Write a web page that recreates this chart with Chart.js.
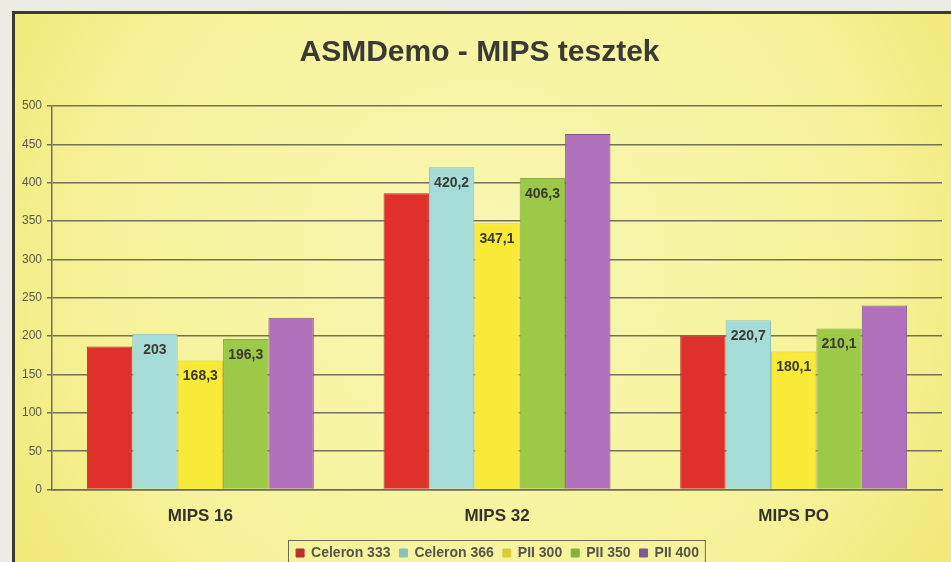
<!DOCTYPE html>
<html>
<head>
<meta charset="utf-8">
<script src="https://cdn.jsdelivr.net/npm/chart.js@4.4.1/dist/chart.umd.min.js"></script>
<style>
  html, body { margin: 0; padding: 0; background: #ecebe4; overflow: hidden; }
  #frame {
    position: absolute; left: 12px; top: 11px;
    width: 936px; height: 556px;
    border-top: 3px solid #3b3b33; border-left: 3px solid #3b3b33;
  }
  canvas { display: block; }
</style>
</head>
<body>
<div id="frame"><canvas id="mipsChart" width="936" height="556"></canvas></div>
<script>
// Benchmark results, MIPS per processor
const categories = ['MIPS 16', 'MIPS 32', 'MIPS PO'];
const processors = ['Celeron 333', 'Celeron 366', 'PII 300', 'PII 350', 'PII 400'];
const celeron333 = [186.6, 386.3, 200.5];
const celeron366 = [203, 420.2, 220.7];
const pii300 = [168.3, 347.1, 180.1];
const pii350 = [196.3, 406.3, 210.1];
const pii400 = [224, 463.5, 240];
const yTicks = [0, 50, 100, 150, 200, 250, 300, 350, 400, 450, 500];

const fills = ['#e0302c', '#a6dcd8', '#f8ea36', '#9cca48', '#b070bc'];
const edges = ['#b8302c', '#86c2c0', '#d8cc3a', '#86b040', '#7c5a92'];
const labelled = [false, true, true, true, false];

const FONT = '"Liberation Sans", Arial, sans-serif';

// shaded column: darker edges, lighter middle
function barFill(i) {
  return function (ctx) {
    const el = ctx.element;
    if (!el || el.width === undefined) return fills[i];
    const c = ctx.chart.ctx;
    const x0 = el.x - el.width / 2, x1 = el.x + el.width / 2;
    const g = c.createLinearGradient(x0, 0, x1, 0);
    g.addColorStop(0, edges[i]);
    g.addColorStop(0.45, fills[i]);
    g.addColorStop(0.75, fills[i]);
    g.addColorStop(1, edges[i]);
    return g;
  };
}

const series = [celeron333, celeron366, pii300, pii350, pii400];

// yellow card behind the whole chart
const cardBackground = {
  id: 'cardBackground',
  beforeDraw(chart) {
    const c = chart.ctx;
    const w = chart.width, h = chart.height;
    c.save();
    const g = c.createRadialGradient(w * 0.5, h * 0.45, 40, w * 0.5, h * 0.45, w * 0.65);
    g.addColorStop(0, '#f8f6b0');
    g.addColorStop(0.6, '#f6f29a');
    g.addColorStop(1, '#efe56c');
    c.fillStyle = g;
    c.fillRect(0, 0, w, h);
    c.restore();
  }
};

// value labels just inside the top of the bars
const valueLabels = {
  id: 'valueLabels',
  afterDatasetsDraw(chart) {
    const c = chart.ctx;
    c.save();
    c.font = 'bold 14px ' + FONT;
    c.fillStyle = '#3a3a30';
    c.textAlign = 'center';
    c.textBaseline = 'middle';
    chart.data.datasets.forEach((ds, i) => {
      if (!labelled[i]) return;
      chart.getDatasetMeta(i).data.forEach((bar, j) => {
        c.fillText(ds.data[j].toString().replace('.', ','), bar.x, bar.y + 16);
      });
    });
    c.restore();
  }
};

// legend sits centred under the plot area rather than the canvas,
// with a thin box around its items
const legendBox = {
  id: 'legendBox',
  afterLayout(chart) {
    const lg = chart.legend;
    if (!lg) return;
    const shift = 18;
    lg.left += shift;
    lg.right += shift;
    lg.legendHitBoxes.forEach(b => { b.left += shift; });
  },
  afterDraw(chart) {
    const lg = chart.legend;
    if (!lg || !lg.legendHitBoxes.length) return;
    const boxes = lg.legendHitBoxes;
    const left = Math.min(...boxes.map(b => b.left)) - 8;
    const right = Math.max(...boxes.map(b => b.left + b.width)) + 6;
    const top = Math.min(...boxes.map(b => b.top)) - 6;
    const c = chart.ctx;
    c.save();
    c.strokeStyle = '#6a6a58';
    c.lineWidth = 1;
    c.strokeRect(Math.round(left) + 0.5, Math.round(top) + 0.5, right - left, 30);
    c.restore();
  }
};

new Chart(document.getElementById('mipsChart'), {
  type: 'bar',
  data: {
    labels: categories,
    datasets: processors.map((name, i) => ({
      label: name,
      data: series[i],
      backgroundColor: barFill(i),
      borderColor: edges[i],
      borderWidth: 1,
      categoryPercentage: 0.765,
      barPercentage: 1
    }))
  },
  options: {
    responsive: false,
    animation: false,
    layout: { padding: { left: 2, right: 9, top: 12, bottom: 0 } },
    plugins: {
      title: {
        display: true,
        text: 'ASMDemo - MIPS tesztek',
        color: '#3a3a34',
        font: { family: FONT, size: 30, weight: 'bold' },
        padding: { top: 9, bottom: 35 }
      },
      legend: {
        position: 'bottom',
        labels: {
          color: '#55554a',
          boxWidth: 8,
          boxHeight: 8,
          padding: 9,
          font: { family: FONT, size: 14, weight: 'bold' }
        }
      },
      tooltip: { enabled: false }
    },
    scales: {
      x: {
        grid: { display: false },
        border: { color: '#6c6c58', width: 1.5 },
        ticks: {
          color: '#33332c',
          padding: 9,
          font: { family: FONT, size: 17, weight: 'bold' }
        },
        afterFit(axis) { axis.height += 1; }
      },
      y: {
        min: 0,
        max: 500,
        afterBuildTicks(axis) { axis.ticks = yTicks.map(v => ({ value: v })); },
        grid: { color: '#72725a', lineWidth: 1.5, tickLength: 5 },
        border: { color: '#72725a', width: 1.5 },
        ticks: {
          color: '#5a5a4c',
          padding: 5,
          font: { family: '"Liberation Sans Narrow", ' + FONT, size: 12 }
        }
      }
    }
  },
  plugins: [cardBackground, valueLabels, legendBox]
});
</script>
</body>
</html>
